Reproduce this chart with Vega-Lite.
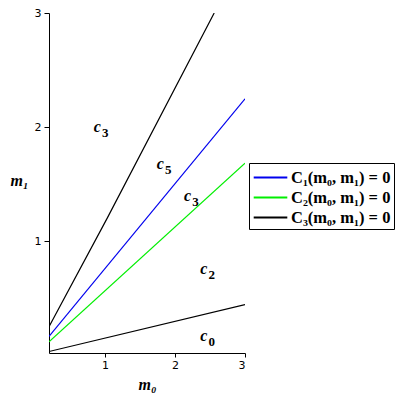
{
  "$schema": "https://vega.github.io/schema/vega-lite/v6.json",
  "width": 196,
  "height": 340,
  "autosize": "none",
  "padding": {"left": 49, "top": 13, "right": 155, "bottom": 47},
  "background": "white",
  "config": {
    "view": {"stroke": null},
    "font": "Liberation Serif"
  },
  "datasets": {
    "lines": [
      {"curve": "a", "series": "C₁(m₀, m₁) = 0", "m0": 0.2, "m1": 0.165},
      {"curve": "a", "series": "C₁(m₀, m₁) = 0", "m0": 3.0, "m1": 2.248},
      {"curve": "b", "series": "C₂(m₀, m₁) = 0", "m0": 0.2, "m1": 0.119},
      {"curve": "b", "series": "C₂(m₀, m₁) = 0", "m0": 3.0, "m1": 1.683},
      {"curve": "c", "series": "C₃(m₀, m₁) = 0", "m0": 0.2, "m1": 0.25},
      {"curve": "c", "series": "C₃(m₀, m₁) = 0", "m0": 1.03, "m1": 1.2},
      {"curve": "c", "series": "C₃(m₀, m₁) = 0", "m0": 2.56, "m1": 3.0},
      {"curve": "d", "series": "C₃(m₀, m₁) = 0", "m0": 0.2, "m1": 0.033},
      {"curve": "d", "series": "C₃(m₀, m₁) = 0", "m0": 3.0, "m1": 0.444}
    ],
    "labels": [
      {"m0": 0.89, "m1": 2.0, "main": "c", "sub": "3"},
      {"m0": 1.79, "m1": 1.68, "main": "c", "sub": "5"},
      {"m0": 2.18, "m1": 1.40, "main": "c", "sub": "3"},
      {"m0": 2.41, "m1": 0.76, "main": "c", "sub": "2"},
      {"m0": 2.41, "m1": 0.17, "main": "c", "sub": "0"}
    ]
  },
  "layer": [
    {
      "data": {"name": "lines"},
      "mark": {"type": "line", "strokeWidth": 1.2, "clip": true},
      "encoding": {
        "x": {
          "field": "m0", "type": "quantitative",
          "scale": {"domain": [0.2, 3], "nice": false, "zero": false},
          "axis": {
            "title": "m₀", "titleFont": "Liberation Serif", "titleFontSize": 16, "titleFontStyle": "italic", "titleFontWeight": "bold",
            "titleColor": "black", "titlePadding": 6,
            "values": [1, 2, 3], "format": "d", "grid": false, "domainColor": "black", "tickColor": "black", "tickSize": 4,
            "labelFont": "DejaVu Sans", "labelFontSize": 11, "labelColor": "black", "labelPadding": 2
          }
        },
        "y": {
          "field": "m1", "type": "quantitative",
          "scale": {"domain": [0.02, 3], "nice": false, "zero": false},
          "axis": {
            "title": "m₁", "titleAngle": 0, "titleFont": "Liberation Serif", "titleFontSize": 16, "titleFontStyle": "italic", "titleFontWeight": "bold",
            "titleColor": "black", "titleX": -30, "titleY": 175, "titleAlign": "center",
            "values": [1, 2, 3], "format": "d", "grid": false, "domainColor": "black", "tickColor": "black", "tickSize": 5,
            "labelFont": "DejaVu Sans", "labelFontSize": 11, "labelColor": "black", "labelPadding": 3
          }
        },
        "color": {
          "field": "series", "type": "nominal",
          "scale": {"domain": ["C₁(m₀, m₁) = 0", "C₂(m₀, m₁) = 0", "C₃(m₀, m₁) = 0"], "range": ["#0000ee", "#00ee00", "#000000"]},
          "legend": {
            "title": null, "orient": "none", "legendX": 200, "legendY": 150,
            "symbolType": "M-1.6,0H1.6", "symbolSize": 441, "symbolStrokeWidth": 2, "symbolOffset": 7,
            "labelFont": "Liberation Serif", "labelFontSize": 16.5, "labelFontWeight": "bold", "labelColor": "black",
            "strokeColor": "black", "padding": 3, "rowPadding": 0, "labelOffset": 9, "labelLimit": 200, "fillColor": "white"
          }
        },
        "detail": {"field": "curve"}
      }
    },
    {
      "data": {"name": "labels"},
      "mark": {"type": "text", "font": "Liberation Serif", "fontSize": 16, "fontStyle": "italic", "fontWeight": "bold", "color": "black", "align": "center", "baseline": "middle"},
      "encoding": {
        "x": {"field": "m0", "type": "quantitative"},
        "y": {"field": "m1", "type": "quantitative"},
        "text": {"field": "main"}
      }
    },
    {
      "data": {"name": "labels"},
      "mark": {"type": "text", "font": "Liberation Serif", "fontSize": 13, "fontWeight": "bold", "color": "black", "align": "center", "baseline": "middle", "dx": 8, "dy": 6},
      "encoding": {
        "x": {"field": "m0", "type": "quantitative"},
        "y": {"field": "m1", "type": "quantitative"},
        "text": {"field": "sub"}
      }
    }
  ]
}
